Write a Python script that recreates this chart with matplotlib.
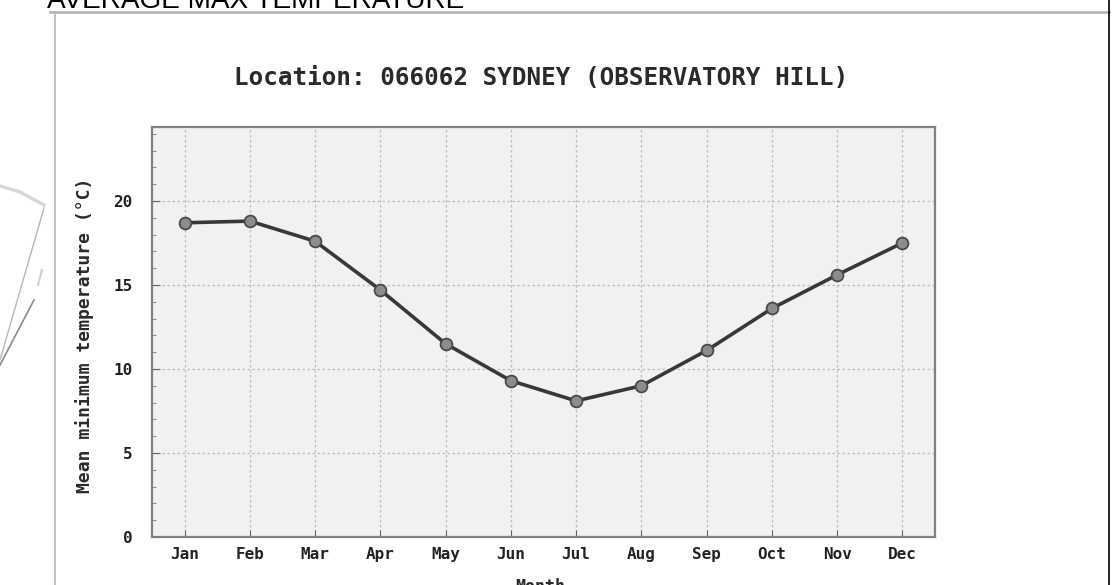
import matplotlib
matplotlib.use("Agg")
import matplotlib.pyplot as plt
from matplotlib.lines import Line2D
from matplotlib.ticker import MultipleLocator

months = ['Jan', 'Feb', 'Mar', 'Apr', 'May', 'Jun',
          'Jul', 'Aug', 'Sep', 'Oct', 'Nov', 'Dec']
min_temp = [18.7, 18.8, 17.6, 14.7, 11.5, 9.3, 8.1, 9.0, 11.1, 13.6, 15.6, 17.5]
y_ticks = [0, 5, 10, 15, 20]

W, H = 1115, 585
mono = 'DejaVu Sans Mono'


def fx(x):
    return x / W


def fy(y):
    return 1 - y / H


fig = plt.figure(figsize=(W / 100, H / 100), dpi=100)
fig.patch.set_facecolor('white')

# slide frame and decoration
fig.add_artist(Line2D([fx(50), fx(1109)], [fy(12), fy(12)], color='#b0b0b0', lw=1.8))
fig.add_artist(Line2D([fx(55), fx(55)], [fy(12), fy(585)], color='#b5b5b5', lw=1.2))
fig.add_artist(Line2D([fx(1109), fx(1109)], [fy(0), fy(585)], color='black', lw=1.2))
fig.add_artist(Line2D([fx(0), fx(20), fx(44)], [fy(186), fy(192), fy(205)], color='#d8d8d8', lw=2.5))
fig.add_artist(Line2D([fx(44), fx(0)], [fy(208), fy(360)], color='#b8b8b8', lw=1.0))
fig.add_artist(Line2D([fx(34), fx(0)], [fy(300), fy(365)], color='#8a8a8a', lw=1.2))
fig.add_artist(Line2D([fx(42), fx(38)], [fy(270), fy(285)], color='#d0d0d0', lw=1.5))

# slide heading, partly cut off at the top like the screenshot
fig.text(fx(47), fy(8), 'AVERAGE MAX TEMPERATURE', fontsize=20.2,
         family='Liberation Sans', color='black', va='baseline', ha='left')

ax = fig.add_axes([fx(152), fy(537), fx(935) - fx(152), fy(127) - fy(537)])
ax.set_facecolor('#f1f1f1')

x = list(range(1, len(months) + 1))
ax.plot(x, min_temp, color='#383838', lw=2.6, marker='o', markersize=8.5,
        markerfacecolor='#8c8c8c', markeredgecolor='#4a4a4a', markeredgewidth=1.3,
        zorder=3)

ax.set_xlim(0.5, 12.5)
ax.set_ylim(0, 24.4)
ax.set_xticks(x)
ax.set_xticklabels(months)
ax.set_yticks(y_ticks)
ax.yaxis.set_minor_locator(MultipleLocator(1))

ax.grid(True, which='major', color='#bdbdbd', lw=0.9, ls=(0, (2, 2)))
ax.tick_params(axis='x', which='major', direction='in', length=5, color='#666666',
               labelsize=11.5, pad=7, labelcolor='#222222')
ax.tick_params(axis='y', which='major', direction='in', length=6, color='#666666',
               labelsize=11.5, pad=14, labelcolor='#222222')
ax.tick_params(axis='y', which='minor', direction='in', length=3, color='#777777')
for lab in ax.get_xticklabels() + ax.get_yticklabels():
    lab.set_family(mono)
    lab.set_weight('bold')

for s in ax.spines.values():
    s.set_color('#808080')
    s.set_linewidth(1.6)

fig.text(fx(541), fy(78), 'Location: 066062 SYDNEY (OBSERVATORY HILL)',
         family=mono, weight='bold', fontsize=17.5, color='#2a2a2a',
         ha='center', va='center')
fig.text(fx(85), fy(335), 'Mean minimum temperature (\u00b0C)', rotation=90,
         family=mono, weight='bold', fontsize=13, color='#2a2a2a',
         ha='center', va='center')
# x label sits at the bottom edge, mostly cut off as in the screenshot
fig.text(fx(540), fy(592), 'Month', family=mono, weight='bold', fontsize=12,
         color='#2a2a2a', ha='center', va='baseline')

plt.savefig('out.png', dpi=100)
